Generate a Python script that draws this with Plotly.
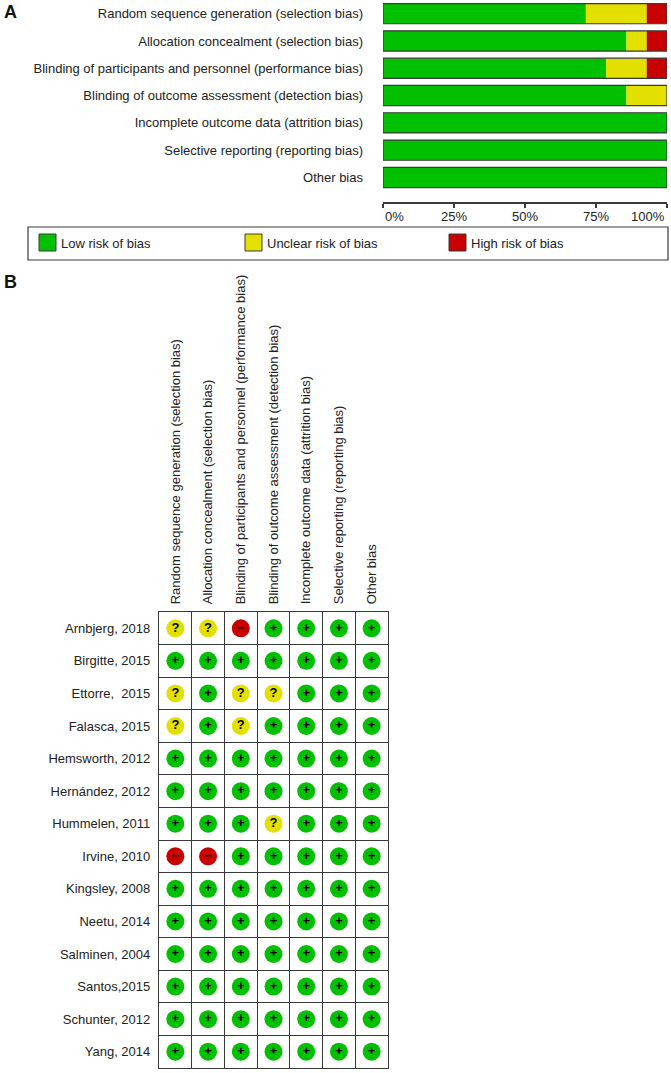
import plotly.graph_objects as go

W, H = 671, 1073

domains = [
    "Random sequence generation (selection bias)",
    "Allocation concealment (selection bias)",
    "Blinding of participants and personnel (performance bias)",
    "Blinding of outcome assessment (detection bias)",
    "Incomplete outcome data (attrition bias)",
    "Selective reporting (reporting bias)",
    "Other bias",
]

studies = [
    "Arnbjerg, 2018", "Birgitte, 2015", "Ettorre,\u00a0 2015", "Falasca, 2015",
    "Hemsworth, 2012", "Hernández, 2012", "Hummelen, 2011", "Irvine, 2010",
    "Kingsley, 2008", "Neetu, 2014", "Salminen, 2004", "Santos,2015",
    "Schunter, 2012", "Yang, 2014",
]

# one row per study, one column per domain ("+" low, "?" unclear, "-" high)
judgements = [
    ["?", "?", "-", "+", "+", "+", "+"],
    ["+", "+", "+", "+", "+", "+", "+"],
    ["?", "+", "?", "?", "+", "+", "+"],
    ["?", "+", "?", "+", "+", "+", "+"],
    ["+", "+", "+", "+", "+", "+", "+"],
    ["+", "+", "+", "+", "+", "+", "+"],
    ["+", "+", "+", "?", "+", "+", "+"],
    ["-", "-", "+", "+", "+", "+", "+"],
    ["+", "+", "+", "+", "+", "+", "+"],
    ["+", "+", "+", "+", "+", "+", "+"],
    ["+", "+", "+", "+", "+", "+", "+"],
    ["+", "+", "+", "+", "+", "+", "+"],
    ["+", "+", "+", "+", "+", "+", "+"],
    ["+", "+", "+", "+", "+", "+", "+"],
]

risk_codes = ["+", "?", "-"]
risk_labels = ["Low risk of bias", "Unclear risk of bias", "High risk of bias"]
risk_glyphs = ["<b>+</b>", "<b>?</b>", "<b>\u2212</b>"]
pct_ticks = [0, 25, 50, 75, 100]

colors = ["#00C000", "#E3E000", "#C80000"]
edge = "#3a3a3a"
text_col = "#222222"
FONT = "Liberation Sans, Arial, sans-serif"


def px_x(x):
    return x / W


def px_y(y):
    return 1 - y / H


fig = go.Figure()

# ---- panel A: stacked percentage bars ----
n = len(studies)
base = [0.0] * len(domains)
for code, color in zip(risk_codes, colors):
    pct = [100.0 * sum(1 for row in judgements if row[d] == code) / n for d in range(len(domains))]
    fig.add_trace(go.Bar(
        y=domains, x=pct, base=base, orientation="h",
        marker=dict(color=color, line=dict(width=0)),
        width=0.74, xaxis="x", yaxis="y", hoverinfo="skip",
    ))
    base = [b + p for b, p in zip(base, pct)]

# outline around each bar
fig.add_trace(go.Bar(
    y=domains, x=base, base=[0] * len(domains), orientation="h",
    marker=dict(color="rgba(0,0,0,0)", line=dict(color=edge, width=1.2)),
    width=0.74, xaxis="x", yaxis="y", hoverinfo="skip",
))

# ---- panel B: traffic-light grid ----
for code, color, glyph in zip(risk_codes, colors, risk_glyphs):
    xs, ys = [], []
    for si, row in enumerate(judgements):
        for di, j in enumerate(row):
            if j == code:
                xs.append(di)
                ys.append(si)
    fig.add_trace(go.Scatter(
        x=xs, y=ys, mode="markers+text",
        marker=dict(size=18, color=color, line=dict(width=0)),
        text=[glyph] * len(xs), textposition="middle center",
        textfont=dict(size=13, color="#000000", family=FONT),
        xaxis="x2", yaxis="y2", hoverinfo="skip",
    ))

fig.update_layout(
    width=W, height=H,
    margin=dict(l=0, r=0, t=0, b=0),
    paper_bgcolor="white", plot_bgcolor="white",
    showlegend=False, barmode="overlay",
    font=dict(family=FONT, size=13, color=text_col),
    xaxis=dict(
        domain=[px_x(383), px_x(667)], range=[0, 100], fixedrange=True,
        tickvals=pct_ticks, showticklabels=False,
        showline=True, linecolor=edge, linewidth=1.5,
        ticks="outside", ticklen=4, tickwidth=1.5, tickcolor=edge,
        showgrid=False, zeroline=False, anchor="y",
    ),
    yaxis=dict(
        domain=[px_y(202), 1], range=[6.9, -0.5], type="category",
        categoryorder="array", categoryarray=domains,
        showgrid=False, zeroline=False, ticks="", ticklabelstandoff=19,
        anchor="x",
    ),
    xaxis2=dict(
        domain=[px_x(159), px_x(388)], range=[-0.5, 6.5], side="top",
        tickvals=list(range(len(domains))), ticktext=domains, tickangle=-90,
        ticks="", ticklabelstandoff=4,
        showgrid=False, zeroline=False,
        showline=True, mirror=True, linecolor=edge, linewidth=1.2,
        minor=dict(tickmode="linear", tick0=0.5, dtick=1, showgrid=True,
                   gridcolor=edge, gridwidth=1.2),
        anchor="y2",
    ),
    yaxis2=dict(
        domain=[px_y(1068), px_y(612)], range=[len(studies) - 0.5, -0.5],
        tickvals=list(range(len(studies))), ticktext=studies,
        ticks="", ticklabelstandoff=5,
        showgrid=False, zeroline=False,
        showline=True, mirror=True, linecolor=edge, linewidth=1.2,
        minor=dict(tickmode="linear", tick0=0.5, dtick=1, showgrid=True,
                   gridcolor=edge, gridwidth=1.2),
        anchor="x2",
    ),
)

# percentage labels: the end ones sit inside the axis span, as in the original
for v in pct_ticks:
    anchor = "left" if v == pct_ticks[0] else ("right" if v == pct_ticks[-1] else "center")
    fig.add_annotation(x=v, y=px_y(216), xref="x", yref="paper",
                       text=f"{v}%", showarrow=False, xanchor=anchor, yanchor="middle",
                       font=dict(size=13, color=text_col, family=FONT))

# panel letters
for letter, ypx in [("A", 0), ("B", 270)]:
    fig.add_annotation(x=px_x(2), y=px_y(ypx), xref="paper", yref="paper",
                       text=f"<b>{letter}</b>", showarrow=False,
                       xanchor="left", yanchor="top",
                       font=dict(size=18, color="#111111", family=FONT))

# legend box for panel A
fig.add_shape(type="rect", xref="paper", yref="paper",
              x0=px_x(28), x1=px_x(668), y0=px_y(260), y1=px_y(227),
              line=dict(color=edge, width=1.2), fillcolor="white")
for label, color, xpx in zip(risk_labels, colors, [39, 245, 449]):
    fig.add_shape(type="rect", xref="paper", yref="paper",
                  x0=px_x(xpx), x1=px_x(xpx + 17), y0=px_y(251), y1=px_y(234),
                  line=dict(color=edge, width=1), fillcolor=color)
    fig.add_annotation(x=px_x(xpx + 20), y=px_y(243), xref="paper", yref="paper",
                       text=label, showarrow=False, xanchor="left", yanchor="middle",
                       font=dict(size=13, color=text_col, family=FONT))

# drop the default page margin so the figure sits at the window origin
fig.write_html("out.html", config={"displayModeBar": False},
               post_script="document.body.style.margin='0';"
                           "document.body.style.overflow='hidden';")
